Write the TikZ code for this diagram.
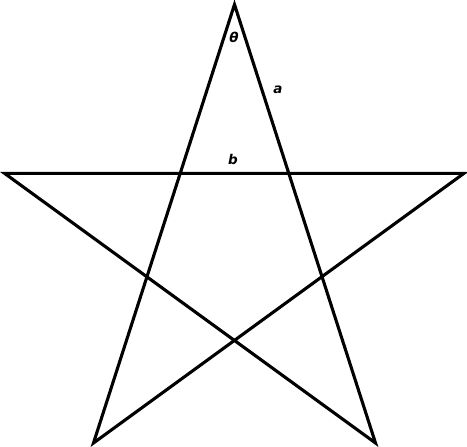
\documentclass[tikz,border=0pt]{standalone}
\usepackage{fontspec}
\setmainfont{DejaVu Sans}
\begin{document}
\begin{tikzpicture}[x=1pt,y=-1pt,
  edge/.style={line width=3.1pt,line join=miter,line cap=butt},
  lbl/.style={font=\fontsize{13.5}{15}\selectfont\itshape\bfseries,inner sep=0pt}]
\useasboundingbox (0,0) rectangle (467,447);
\coordinate (T) at (234.5,4.5);
\coordinate (L) at (4.5,173.3);
\coordinate (R) at (464,173.3);
\coordinate (BL) at (93.5,443);
\coordinate (BR) at (375.5,443);
\draw[edge] (T) -- (BL) -- (R) -- (L) -- (BR) -- cycle;
\node[lbl] (th) at (234,37) {θ};
\node[lbl] (a) at (278,90) {a};
\node[lbl] (b) at (233,159) {b};
\end{tikzpicture}
\end{document}
